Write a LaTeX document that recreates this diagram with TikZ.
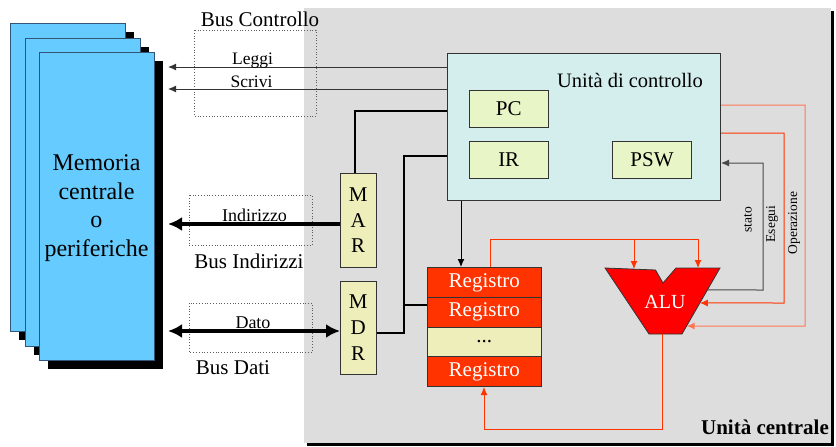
\documentclass[tikz,border=0pt]{standalone}
\usepackage{fontspec}
\setmainfont{Liberation Serif}
\usetikzlibrary{arrows.meta,calc,shadows}
\definecolor{memblue}{HTML}{66CCFF}
\definecolor{memedge}{HTML}{335577}
\definecolor{bggray}{HTML}{DDDDDD}
\definecolor{cufill}{HTML}{D4EEEE}
\definecolor{regyel}{HTML}{E8F5C6}
\definecolor{marfill}{HTML}{EEEEBB}
\definecolor{regred}{HTML}{FF3300}
\definecolor{alured}{HTML}{FF0000}
\definecolor{oplink}{HTML}{FF7755}
\definecolor{darkln}{HTML}{333333}
\begin{document}
\begin{tikzpicture}[x=1pt,y=-1pt,
  membox/.style={draw=memedge, fill=memblue, line width=0.8pt, minimum width=115pt, minimum height=308pt, anchor=north west, inner sep=0pt,
    general shadow={shadow xshift=9pt, shadow yshift=-9pt, fill=black, opacity=1}},
  unitbox/.style={draw=darkln, line width=1pt, inner sep=0pt, anchor=north west},
  regbox/.style={unitbox, fill=regred, text=white, minimum width=114.5pt, minimum height=29.75pt, font=\fontsize{21}{25}\selectfont},
  smallbox/.style={unitbox, fill=regyel, font=\fontsize{21}{25}\selectfont},
  busbox/.style={draw=darkln!80, dotted, line width=0.8pt},
  lbl/.style={inner sep=0pt, anchor=base},
  thinarrow/.style={draw=darkln, line width=1pt, -{Latex[length=8pt,width=7pt]}},
  busarrow/.style={draw=black, line width=4pt, -{Latex[length=14pt,width=14pt]}},
  busdouble/.style={draw=black, line width=4pt, {Latex[length=14pt,width=14pt]}-{Latex[length=14pt,width=14pt]}},
  bigline/.style={draw=black, line width=2pt},
  redarrow/.style={draw=regred, line width=1pt, -{Latex[length=8pt,width=7pt]}},
  oparrow/.style={draw=oplink, line width=1pt, -{Latex[length=8pt,width=7pt]}},
  vlabel/.style={inner sep=0pt, rotate=90, font=\fontsize{13.5}{16}\selectfont}
]
\useasboundingbox (0,0) rectangle (836,447);

% central unit background
\node[fill=bggray, inner sep=0pt, minimum width=527pt, minimum height=435pt, anchor=north west,
  general shadow={shadow xshift=3pt, shadow yshift=-3pt, fill=black, opacity=1}] (cpu) at (304,8) {};
\node[lbl, font=\bfseries\fontsize{21}{25}\selectfont] (cpulbl) at (765,434) {Unità centrale};

% memory stack
\node[membox] (mem1) at (10,23) {};
\node[membox] (mem2) at (25,38) {};
\node[membox] (mem3) at (39,52) {};
\node[inner sep=0pt, align=center, font=\fontsize{24}{28.5}\selectfont] (memlbl) at (96.5,208) {Memoria\\centrale\\o\\periferiche};

% bus boxes
\draw[busbox] (194,30) rectangle (316,116);
\draw[busbox] (189,195) rectangle (312,245);
\draw[busbox] (189,303) rectangle (312,352);
\node[lbl, font=\fontsize{21}{25}\selectfont] (bcl) at (260,27) {Bus Controllo};
\node[lbl, font=\fontsize{21}{25}\selectfont] (bil) at (249,268) {Bus Indirizzi};
\node[lbl, font=\fontsize{21}{25}\selectfont] (bdl) at (233,374) {Bus Dati};

% control unit
\node[unitbox, fill=cufill, minimum width=273pt, minimum height=147pt] (cu) at (447,53) {};
\node[lbl, font=\fontsize{20.5}{25}\selectfont] (culbl) at (630,87) {Unità di controllo};
\node[smallbox, minimum width=79.5pt, minimum height=36.5pt] (pc) at (468.5,90) {PC};
\node[smallbox, minimum width=79.5pt, minimum height=37pt] (ir) at (468.5,141) {IR};
\node[smallbox, minimum width=79pt, minimum height=37pt] (psw) at (612,141) {PSW};

% MAR / MDR
\node[unitbox, fill=marfill, minimum width=35.5pt, minimum height=94pt, align=center, font=\fontsize{21}{25.5}\selectfont] (mar) at (340,173) {M\\A\\R};
\node[unitbox, fill=marfill, minimum width=35.5pt, minimum height=93pt, align=center, font=\fontsize{21}{26}\selectfont] (mdr) at (340,281) {M\\D\\R};

% registers
\node[regbox] (reg1) at (426.5,267) {Registro};
\node[regbox] (reg2) at (426.5,296.75) {Registro};
\node[regbox, fill=marfill, text=black] (regd) at (426.5,326.5) {...};
\node[regbox] (reg4) at (426.5,356.25) {Registro};

% ALU
\coordinate (alu1) at (605,268);
\coordinate (alu2) at (655.5,270);
\coordinate (alu3) at (663,283);
\coordinate (alu4) at (676,268);
\coordinate (alu5) at (720,268);
\coordinate (alu6) at (682,334);
\coordinate (alu7) at (649,334);
\filldraw[fill=alured, draw=darkln, line width=0.8pt] (alu1) -- (alu2) -- (alu3) -- (alu4) -- (alu5) -- (alu6) -- (alu7) -- cycle;
\node[inner sep=0pt, text=white, font=\fontsize{20}{24}\selectfont] (alu) at (665,302) {ALU};
\coordinate (aluA) at (634,269);
\coordinate (aluB) at (698,268);
\coordinate (aluOut) at (662,334);
\coordinate (aluS) at ($(alu5)!0.333!(alu6)$);
\coordinate (aluE) at ($(alu5)!0.53!(alu6)$);
\coordinate (aluO) at ($(alu5)!0.879!(alu6)$);

% control bus
\coordinate (lgEnd) at (168,67);
\coordinate (scEnd) at (168,89);
\draw[thinarrow] (cu.west |- lgEnd) -- (lgEnd);
\draw[thinarrow] (cu.west |- scEnd) -- (scEnd);
\node[lbl, font=\fontsize{17.5}{21}\selectfont] (leggi) at (252.5,64) {Leggi};
\node[lbl, font=\fontsize{17.5}{21}\selectfont] (scrivi) at (251.5,87) {Scrivi};

% address bus
\coordinate (indEnd) at (168,224);
\draw[busarrow] (mar.west |- indEnd) -- (indEnd);
\node[lbl, font=\fontsize{18}{21}\selectfont] (indir) at (254.5,221) {Indirizzo};

% data bus
\coordinate (datEnd) at (168,331);
\draw[busdouble] (datEnd) -- (mdr.west |- datEnd);
\node[lbl, font=\fontsize{18}{21}\selectfont] (dato) at (253,328) {Dato};

% CU to MAR / MDR / registers
\draw[bigline] (cu.west |- 0,111) -| ([xshift=-3pt]mar.north);
\coordinate (jmdr) at (404,333);
\coordinate (jreg) at (404,305);
\draw[bigline] (cu.west |- 0,156) -| (jmdr) -- (mdr.east |- jmdr);
\draw[bigline] (jreg) -- (reg2.west |- jreg);
\draw[thinarrow, draw=black] (cu.south -| 461,0) -- (reg1.north -| 461,0);

% registers to ALU
\draw[redarrow] (reg1.north -| 490,0) -- (490,239) -| (aluB);
\draw[redarrow] (634,239) -- (aluA);
\draw[redarrow] (aluOut) -- (662,429) -| (reg4.south -| 484,0);

% control lines on the right
\draw[thinarrow, draw=darkln!90] (aluS) -- (763,290) |- (cu.east |- 0,163);
\draw[redarrow] (cu.east |- 0,133) -| (784,303) -- (aluE);
\draw[oparrow] (cu.east |- 0,105) -| (805,326) -- (aluO);
\node[vlabel] (stato) at (748,220) {stato};
\node[vlabel] (esegui) at (772,224) {Esegui};
\node[vlabel] (oper) at (794,223) {Operazione};
\end{tikzpicture}
\end{document}
